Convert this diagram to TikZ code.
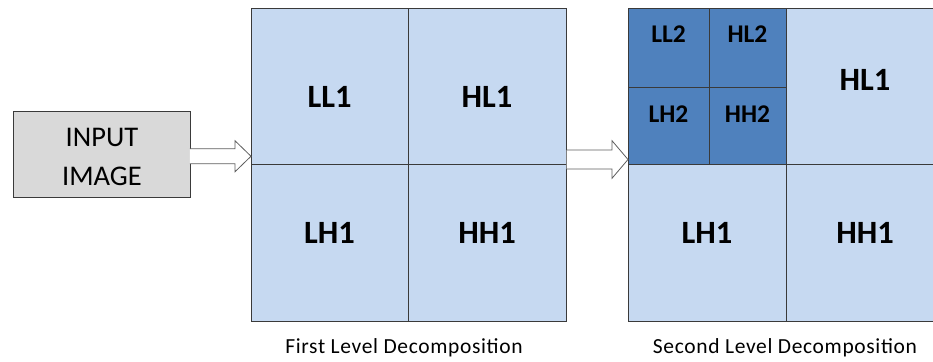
\documentclass[tikz,border=0pt]{standalone}
\usepackage{fontspec}
\setmainfont{Carlito}
\newfontfamily\capfont[LetterSpace=3.0]{Carlito}
\usetikzlibrary{calc}
\definecolor{lightcell}{HTML}{C6D9F1}
\definecolor{darkcell}{HTML}{4F81BD}
\definecolor{boxgray}{HTML}{D9D9D9}
\definecolor{edgegray}{HTML}{3A3A3A}
\definecolor{arrowgray}{HTML}{5E5E5E}
\tikzset{
  cellbox/.style 2 args={draw=edgegray, line width=0.9pt, fill=lightcell,
    inner sep=0pt, outer sep=0pt, anchor=north west,
    minimum width=#1, minimum height=#2},
  darkbox/.style 2 args={cellbox={#1}{#2}, fill=darkcell},
  biglabel/.style={font=\bfseries\fontsize{32.5}{38}\selectfont, inner sep=0pt},
  smalllabel/.style={font=\bfseries\fontsize{25.5}{30}\selectfont, inner sep=0pt},
  inputbox/.style={draw=edgegray, line width=0.9pt, fill=boxgray, inner sep=0pt,
    anchor=north west, minimum width=177pt, minimum height=86.6pt},
  inputtext/.style={font=\fontsize{28.5}{39}\selectfont, align=center, inner sep=0pt},
  caption/.style={font=\capfont\fontsize{21.5}{25}\selectfont, inner sep=0pt, anchor=base},
  blockarrow/.style={draw=arrowgray, line width=0.8pt, fill=white, line join=miter}
}
\begin{document}
\begin{tikzpicture}[x=1pt, y=-1pt]
\useasboundingbox (0,0) rectangle (933,361);
\clip (0,0) rectangle (933,361);

% input box
\node[inputbox] (inp) at (13,110.7) {};
\node[inputtext] (inptext) at ($(inp.center)+(0,3)$) {INPUT\\IMAGE};

% first level grid
\node[cellbox={157pt}{156pt}] (ga) at (251,8) {};
\node[cellbox={158pt}{156pt}] (gb) at (408,8) {};
\node[cellbox={157pt}{157pt}] (gc) at (251,164) {};
\node[cellbox={158pt}{157pt}] (gd) at (408,164) {};
\node[biglabel] (tga) at ($(ga.center)+(0,11)$) {LL1};
\node[biglabel] (tgb) at ($(gb.center)+(0,11)$) {HL1};
\node[biglabel] (tgc) at ($(gc.center)+(0,-9.5)$) {LH1};
\node[biglabel] (tgd) at ($(gd.center)+(0,-9.5)$) {HH1};

% second level grid
\node[cellbox={158pt}{156pt}] (hb) at (786,8) {};
\node[cellbox={158pt}{157pt}] (hc) at (628,164) {};
\node[cellbox={158pt}{157pt}] (hd) at (786,164) {};
\node[darkbox={81pt}{79pt}] (ha) at (628,8) {};
\node[darkbox={77pt}{79pt}] (hab) at (709,8) {};
\node[darkbox={81pt}{77pt}] (hac) at (628,87) {};
\node[darkbox={77pt}{77pt}] (had) at (709,87) {};
\node[smalllabel] (tha) at ($(ha.center)+(0,-13)$) {LL2};
\node[smalllabel] (thab) at ($(hab.center)+(0,-13)$) {HL2};
\node[smalllabel] (thac) at ($(hac.center)+(0,-11)$) {LH2};
\node[smalllabel] (thad) at ($(had.center)+(0,-11)$) {HH2};
\node[biglabel] (thb) at ($(hb.center)+(0,-6)$) {HL1};
\node[biglabel] (thc) at ($(hc.center)+(0,-9.5)$) {LH1};
\node[biglabel] (thd) at ($(hd.center)+(0,-9.5)$) {HH1};

% block arrows
\coordinate (a1s) at ($(inp.east)+(-1,1.8)$);
\coordinate (a1t) at (ga.south west |- a1s);
\draw[blockarrow] ($(a1s)+(0,-7.5)$) -- ($(a1t)+(-16,-7.5)$) -- ($(a1t)+(-16,-15.5)$)
  -- (a1t) -- ($(a1t)+(-16,15.5)$) -- ($(a1t)+(-16,7.5)$) -- ($(a1s)+(0,7.5)$);
\coordinate (a2t) at ($(hac.south west)+(0,-4.5)$);
\coordinate (a2s) at ($(gb.east |- a2t)+(0.5,0)$);
\draw[blockarrow] ($(a2s)+(0,-9.5)$) -- ($(a2t)+(-16,-9.5)$) -- ($(a2t)+(-16,-18.8)$)
  -- (a2t) -- ($(a2t)+(-16,18.8)$) -- ($(a2t)+(-16,9.5)$) -- ($(a2s)+(0,9.5)$);

% captions
\node[caption] (cap1) at ($(gc.south east)+(-4,32.3)$) {First Level Decomposition};
\node[caption] (cap2) at ($(hc.south east)+(-1,32.3)$) {Second Level Decomposition};
\end{tikzpicture}
\end{document}
